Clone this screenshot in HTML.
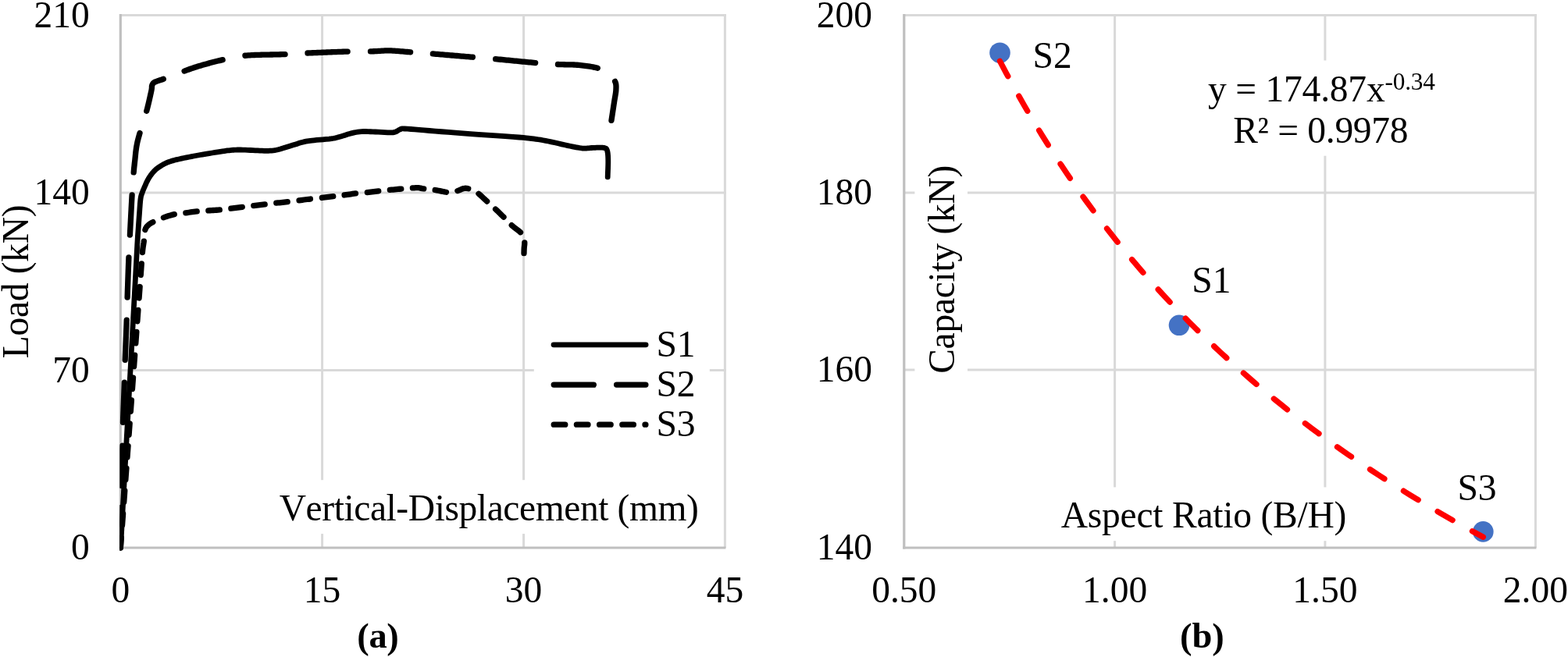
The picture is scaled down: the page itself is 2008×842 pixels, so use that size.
<!DOCTYPE html>
<html lang="en"><head><meta charset="utf-8"><title>Load-displacement curves and capacity vs aspect ratio</title>
<style>html,body{margin:0;padding:0;background:#fff;overflow:hidden}svg{display:block}text{font-family:"Liberation Serif",serif;font-size:47.5px;fill:#000;font-kerning:none}.b{font-weight:bold}.g{stroke:#d9d9d9;stroke-width:3;fill:none}.ax{stroke:#bfbfbf;stroke-width:3.2;fill:none}.s{stroke:#000;stroke-width:7.3;fill:none;stroke-linecap:round;stroke-linejoin:round}.wb{fill:#fff}.pt{fill:#4472c4}</style></head><body>
<svg width="2008" height="842" viewBox="0 0 2008 842" role="img" aria-label="Load versus vertical displacement curves and capacity versus aspect ratio">
<defs><clipPath id="cl"><rect x="153.3" y="10" width="780" height="696"/></clipPath></defs>
<rect width="2008" height="842" fill="#fff"/>
<g id="chart-a">
<line class="g" x1="154.3" y1="19.6" x2="929.9" y2="19.6"/>
<line class="g" x1="154.3" y1="247.0" x2="929.9" y2="247.0"/>
<line class="g" x1="154.3" y1="474.4" x2="929.9" y2="474.4"/>
<line class="g" x1="412.6" y1="18.1" x2="412.6" y2="702.0"/>
<line class="g" x1="670.6" y1="18.1" x2="670.6" y2="702.0"/>
<line class="g" x1="928.4" y1="18.1" x2="928.4" y2="702.0"/>
<line class="ax" x1="154.3" y1="18.1" x2="154.3" y2="703.5"/>
<line class="ax" x1="152.8" y1="702.0" x2="929.4" y2="702.0"/>
<rect class="wb" x="683.8" y="410" width="225" height="170"/>
<rect class="wb" x="345" y="615.2" width="560" height="68.9"/>
<g clip-path="url(#cl)">
<path class="s" d="M152.40 702.00 L152.47 699.95 L152.54 697.90 L152.61 695.85 L152.68 693.80 L152.75 691.75 L152.82 689.70 L152.89 687.65 L152.96 685.59 L153.03 683.54 L153.10 681.49 L153.17 679.44 L153.24 677.39 L153.30 675.34 L153.37 673.29 L153.44 671.24 L153.51 669.19 L153.58 667.14 L153.65 665.09 L153.72 663.04 L153.79 660.99 L153.86 658.94 L153.93 656.88 L154.00 654.83 L154.07 652.78 L154.14 650.73 M155.10 622.32 L155.17 620.27 L155.24 618.22 L155.31 616.18 L155.38 614.13 L155.45 612.08 L155.52 610.04 L155.59 607.99 L155.66 605.94 L155.73 603.90 L155.80 601.85 L155.87 599.80 L155.93 597.76 L156.00 595.71 L156.07 593.66 L156.14 591.61 L156.21 589.57 L156.28 587.52 L156.34 585.47 L156.41 583.43 L156.48 581.38 L156.54 579.33 L156.61 577.29 L156.67 575.24 L156.74 573.19 L156.80 571.15 M157.47 541.38 L157.54 539.34 L157.60 537.29 L157.67 535.24 L157.74 533.20 L157.82 531.15 L157.89 529.10 L157.97 527.06 L158.04 525.01 L158.12 522.96 L158.19 520.92 L158.27 518.87 L158.35 516.82 L158.42 514.78 L158.50 512.73 L158.58 510.68 L158.66 508.64 L158.73 506.59 L158.81 504.54 L158.89 502.50 L158.96 500.45 L159.04 498.40 L159.11 496.36 L159.19 494.31 L159.26 492.26 L159.33 490.22 M160.19 461.33 L160.27 459.28 L160.34 457.24 L160.42 455.19 L160.50 453.14 L160.58 451.10 L160.66 449.05 L160.74 447.00 L160.83 444.96 L160.91 442.91 L160.99 440.87 L161.07 438.82 L161.16 436.77 L161.24 434.73 L161.32 432.68 L161.41 430.63 L161.49 428.59 L161.57 426.54 L161.65 424.50 L161.74 422.45 L161.82 420.40 L161.90 418.36 L161.98 416.31 L162.06 414.26 L162.13 412.22 L162.21 410.17 M163.10 381.13 L163.17 379.09 L163.24 377.04 L163.30 374.99 L163.37 372.95 L163.44 370.90 L163.51 368.85 L163.58 366.81 L163.65 364.76 L163.72 362.71 L163.79 360.67 L163.86 358.62 L163.93 356.57 L164.00 354.53 L164.07 352.48 L164.14 350.43 L164.21 348.38 L164.28 346.34 L164.36 344.29 L164.43 342.24 L164.51 340.20 L164.58 338.15 L164.66 336.11 L164.74 334.06 L164.82 332.01 L164.90 329.97 M166.40 301.06 L166.51 299.02 L166.61 296.97 L166.72 294.93 L166.82 292.88 L166.93 290.84 L167.03 288.79 L167.14 286.75 L167.24 284.70 L167.35 282.66 L167.45 280.61 L167.56 278.57 L167.66 276.52 L167.77 274.48 L167.87 272.43 L167.98 270.38 L168.09 268.34 L168.19 266.29 L168.30 264.25 L168.41 262.20 L168.52 260.16 L168.63 258.11 L168.75 256.07 L168.86 254.02 L168.98 251.98 L169.10 249.94 M171.19 220.94 L171.36 218.90 L171.54 216.86 L171.73 214.82 L171.95 212.79 L172.17 210.75 L172.40 208.72 L172.64 206.68 L172.86 204.65 L173.06 202.61 L173.26 200.57 L173.47 198.53 L173.68 196.49 L173.90 194.46 L174.15 192.43 L174.42 190.40 L174.73 188.37 L175.09 186.35 L175.48 184.34 L175.90 182.34 L176.36 180.34 L176.86 178.36 L177.38 176.38 L177.93 174.40 L178.48 172.43 L179.04 170.46 M187.72 142.31 L188.25 140.33 L188.77 138.35 L189.27 136.36 L189.76 134.37 L190.24 132.38 L190.71 130.39 L191.17 128.39 L191.63 126.40 L192.08 124.40 L192.52 122.40 L192.96 120.40 L193.39 118.40 L193.82 116.39 L194.21 114.38 L194.43 112.35 L194.45 110.33 L195.08 108.39 L196.15 106.65 L197.77 105.41 L199.64 104.59 L201.56 103.88 L203.48 103.18 L205.45 102.59 L207.38 101.93 L209.31 101.23 M236.07 91.09 L237.99 90.39 L239.92 89.69 L241.84 88.99 L243.77 88.29 L245.70 87.61 L247.63 86.94 L249.57 86.29 L251.52 85.66 L253.48 85.05 L255.44 84.47 L257.41 83.89 L259.37 83.32 L261.34 82.76 L263.32 82.21 L265.29 81.66 L267.27 81.12 L269.24 80.59 L271.22 80.07 L273.21 79.55 L275.19 79.05 L277.18 78.55 L279.17 78.07 L281.16 77.59 L283.15 77.13 L285.15 76.68 M313.92 71.26 L315.96 71.09 L318.00 70.94 L320.05 70.81 L322.09 70.70 L324.14 70.60 L326.18 70.52 L328.23 70.44 L330.28 70.38 L332.32 70.32 L334.37 70.26 L336.42 70.22 L338.47 70.17 L340.51 70.13 L342.56 70.09 L344.61 70.05 L346.66 70.02 L348.70 69.98 L350.75 69.95 L352.80 69.91 L354.85 69.87 L356.89 69.82 L358.94 69.77 L360.99 69.72 L363.04 69.65 L365.08 69.57 M393.97 68.01 L396.01 67.93 L398.06 67.84 L400.11 67.75 L402.15 67.66 L404.20 67.58 L406.25 67.49 L408.29 67.41 L410.34 67.33 L412.38 67.24 L414.43 67.16 L416.48 67.08 L418.52 67.00 L420.57 66.92 L422.62 66.85 L424.66 66.77 L426.71 66.69 L428.76 66.62 L430.80 66.54 L432.85 66.47 L434.90 66.40 L436.94 66.33 L438.99 66.27 L441.04 66.21 L443.08 66.15 L445.13 66.09 M474.50 65.91 L476.55 65.85 L478.59 65.77 L480.64 65.66 L482.68 65.54 L484.73 65.41 L486.77 65.27 L488.81 65.15 L490.86 65.04 L492.91 64.95 L494.95 64.90 L497.00 64.89 L499.05 64.91 L501.10 64.97 L503.14 65.07 L505.19 65.18 L507.23 65.32 L509.27 65.47 L511.31 65.63 L513.35 65.80 L515.39 65.98 L517.43 66.16 L519.48 66.33 L521.52 66.50 L523.56 66.67 L525.60 66.82 M554.34 68.98 L556.38 69.14 L558.42 69.31 L560.46 69.48 L562.50 69.64 L564.54 69.81 L566.59 69.98 L568.63 70.15 L570.67 70.32 L572.71 70.49 L574.75 70.66 L576.79 70.83 L578.83 71.00 L580.87 71.17 L582.91 71.34 L584.95 71.51 L586.99 71.68 L589.04 71.85 L591.08 72.02 L593.12 72.20 L595.16 72.37 L597.20 72.54 L599.24 72.71 L601.28 72.88 L603.32 73.05 L605.36 73.22 M634.66 75.68 L636.70 75.87 L638.74 76.06 L640.78 76.25 L642.82 76.44 L644.86 76.64 L646.90 76.84 L648.94 77.03 L650.98 77.23 L653.01 77.43 L655.05 77.63 L657.09 77.83 L659.13 78.03 L661.17 78.23 L663.21 78.42 L665.24 78.62 L667.28 78.82 L669.32 79.02 L671.36 79.21 L673.40 79.41 L675.44 79.60 L677.48 79.79 L679.52 79.98 L681.55 80.16 L683.59 80.34 L685.64 80.52 M714.48 82.50 L716.53 82.59 L718.57 82.66 L720.62 82.72 L722.67 82.76 L724.72 82.79 L726.76 82.81 L728.81 82.84 L730.86 82.88 L732.91 82.93 L734.95 83.01 L737.00 83.10 L739.04 83.24 L741.08 83.41 L743.12 83.61 L745.16 83.82 L747.19 84.05 L749.23 84.30 L751.26 84.57 L753.29 84.86 L755.31 85.17 L757.33 85.51 L759.34 85.89 L761.35 86.30 L763.34 86.77 L765.32 87.31 M787.60 104.30 L788.35 106.18 L788.80 108.16 L788.98 110.17 L788.99 112.20 L788.92 114.22 L788.82 116.25 L788.61 118.26 L788.32 120.27 L787.99 122.27 L787.64 124.26 L787.29 126.26 L786.96 128.26 L786.65 130.26 L786.34 132.26 L786.04 134.27 L785.74 136.27 L785.44 138.27 L785.13 140.28 L784.83 142.28 L784.52 144.28 L784.22 146.29 L783.91 148.29 L783.61 150.29 L783.30 152.30 L783.00 154.30"/>
<path class="s" d="M182.41 323.54 L182.60 321.47 L182.82 319.41 L183.08 317.36 L183.38 315.31 L183.71 313.26 L184.03 311.22 L184.30 309.16 M180.26 352.39 L180.40 350.33 L180.55 348.26 L180.70 346.19 L180.84 344.13 L180.99 342.06 L181.14 340.00 L181.28 337.93 M178.08 381.98 L178.23 379.91 L178.39 377.85 L178.54 375.78 L178.69 373.72 L178.85 371.65 L179.00 369.59 L179.15 367.52 M175.87 411.80 L176.03 409.74 L176.18 407.67 L176.33 405.60 L176.49 403.54 L176.64 401.47 L176.79 399.41 L176.94 397.34 M173.79 439.94 L173.95 437.87 L174.10 435.81 L174.25 433.74 L174.40 431.67 L174.56 429.61 L174.71 427.54 L174.86 425.48 M171.59 469.70 L171.74 467.63 L171.90 465.57 L172.05 463.50 L172.20 461.44 L172.35 459.37 L172.51 457.30 L172.66 455.24 M169.46 498.48 L169.61 496.41 L169.77 494.35 L169.92 492.28 L170.07 490.22 L170.22 488.15 L170.38 486.09 L170.53 484.02 M167.33 527.23 L167.49 525.16 L167.64 523.10 L167.79 521.03 L167.94 518.97 L168.10 516.90 L168.25 514.84 L168.40 512.77 M165.11 557.23 L165.27 555.16 L165.42 553.10 L165.57 551.03 L165.72 548.97 L165.88 546.90 L166.03 544.84 L166.18 542.77 M162.99 585.98 L163.14 583.91 L163.29 581.85 L163.44 579.78 L163.60 577.71 L163.75 575.65 L163.90 573.58 L164.06 571.52 M160.87 614.62 L161.02 612.56 L161.17 610.49 L161.32 608.42 L161.48 606.36 L161.63 604.29 L161.78 602.23 L161.94 600.16 M158.73 643.44 L158.89 641.38 L159.04 639.31 L159.19 637.25 L159.34 635.18 L159.50 633.12 L159.65 631.05 L159.80 628.98 M156.55 672.93 L156.70 670.87 L156.86 668.80 L157.01 666.74 L157.16 664.67 L157.32 662.60 L157.47 660.54 L157.62 658.47 M154.40 702.00 L154.56 699.84 L154.72 697.68 L154.88 695.52 L155.04 693.37 L155.20 691.21 L155.36 689.05 M185.88 294.53 L186.59 292.59 L187.67 290.83 L189.08 289.31 L190.57 287.87 L192.22 286.62 L194.01 285.57 L195.85 284.63 M209.41 278.82 L211.36 278.13 L213.32 277.46 L215.29 276.82 L217.27 276.21 L219.26 275.64 L221.27 275.12 L223.28 274.65 M237.86 272.80 L239.92 272.53 L241.97 272.24 L244.02 271.95 L246.07 271.66 L248.12 271.38 L250.18 271.12 L252.24 270.90 M266.82 269.89 L268.88 269.75 L270.95 269.63 L273.02 269.51 L275.09 269.38 L277.15 269.24 L279.22 269.09 L281.28 268.92 M295.86 267.20 L297.92 266.94 L299.97 266.67 L302.02 266.39 L304.08 266.10 L306.13 265.83 L308.18 265.55 L310.24 265.30 M324.81 263.66 L326.86 263.41 L328.92 263.15 L330.97 262.88 L333.03 262.62 L335.08 262.35 L337.14 262.09 L339.19 261.84 M353.79 260.20 L355.85 259.98 L357.91 259.78 L359.97 259.57 L362.03 259.36 L364.09 259.15 L366.15 258.93 L368.21 258.70 M383.05 256.78 L385.11 256.52 L387.16 256.26 L389.22 256.00 L391.28 255.75 L393.33 255.50 L395.39 255.26 L397.45 255.03 M412.36 253.47 L414.42 253.23 L416.47 252.97 L418.53 252.70 L420.58 252.42 L422.63 252.14 L424.68 251.88 L426.74 251.62 M441.07 249.98 L443.13 249.71 L445.18 249.41 L447.22 249.09 L449.27 248.77 L451.32 248.46 L453.37 248.18 L455.43 247.93 M470.35 246.57 L472.41 246.34 L474.47 246.10 L476.52 245.84 L478.58 245.57 L480.63 245.31 L482.69 245.06 L484.75 244.83 M499.33 243.43 L501.39 243.24 L503.46 243.03 L505.52 242.83 L507.58 242.63 L509.64 242.44 L511.70 242.25 L513.77 242.07 M528.37 240.94 L530.43 240.79 L532.50 240.62 L534.57 240.55 L536.63 240.73 L538.65 241.17 L540.68 241.58 L542.73 241.88 M557.18 243.52 L559.23 243.85 L561.26 244.24 L563.29 244.66 L565.32 245.10 L567.34 245.54 L569.37 245.94 L571.42 246.27 M585.87 244.58 L587.81 243.85 L589.72 243.03 L591.63 242.23 L593.59 241.57 L595.63 241.26 L597.70 241.36 L599.73 241.75 M612.95 248.26 L614.53 249.59 L616.08 250.98 L617.60 252.38 L619.11 253.80 L620.62 255.22 L622.13 256.64 L623.65 258.04 M634.59 268.11 L636.10 269.53 L637.60 270.96 L639.09 272.39 L640.58 273.84 L642.06 275.29 L643.53 276.74 L645.00 278.20 M655.25 288.66 L656.81 290.02 L658.43 291.32 L660.08 292.58 L661.73 293.82 L663.39 295.07 L665.01 296.35 L666.54 297.74 M671.80 310.80 L671.75 313.12 L671.48 315.43 L671.22 317.74 L671.11 320.06 L671.05 322.38 L671.00 324.70"/>
<path class="s" style="stroke-width:6.8" d="M154.50 702.00 L155.80 678.25 L157.11 654.41 L158.43 630.56 L159.73 606.81 L161.02 583.26 L162.30 560.00 L163.57 536.81 L164.85 513.56 L166.11 490.50 L167.35 467.89 L168.55 445.97 L169.70 425.00 L170.84 404.18 L171.98 383.15 L173.08 362.81 L174.10 344.07 L174.99 327.84 L175.70 315.00 L176.19 306.46 L176.48 301.67 L176.64 299.38 L176.73 298.33 L176.83 297.29 L177.00 295.00 L177.23 291.67 L177.45 288.33 L177.68 285.00 L177.91 281.67 L178.15 278.33 L178.40 275.00 L178.65 271.53 L178.90 267.89 L179.16 264.25 L179.42 260.78 L179.70 257.64 L180.00 255.00 L180.31 252.97 L180.62 251.44 L180.95 250.24 L181.30 249.21 L181.68 248.18 L182.10 247.00 L182.57 245.68 L183.09 244.36 L183.63 243.04 L184.19 241.74 L184.75 240.46 L185.30 239.20 L185.82 237.98 L186.33 236.79 L186.83 235.61 L187.35 234.45 L187.90 233.28 L188.50 232.10 L189.13 230.90 L189.79 229.70 L190.47 228.50 L191.19 227.30 L191.97 226.10 L192.80 224.90 L193.71 223.69 L194.68 222.45 L195.70 221.21 L196.76 220.01 L197.83 218.86 L198.90 217.80 L199.98 216.83 L201.07 215.94 L202.18 215.10 L203.31 214.31 L204.45 213.55 L205.60 212.80 L206.77 212.07 L207.97 211.37 L209.17 210.70 L210.39 210.06 L211.60 209.46 L212.80 208.90 L213.95 208.39 L215.06 207.94 L216.17 207.52 L217.31 207.12 L218.54 206.72 L219.90 206.30 L221.32 205.88 L222.74 205.47 L224.26 205.07 L225.92 204.65 L227.81 204.20 L230.00 203.70 L232.58 203.14 L235.53 202.52 L238.69 201.87 L241.95 201.21 L245.17 200.58 L248.20 200.00 L251.02 199.47 L253.72 198.99 L256.37 198.52 L259.06 198.06 L261.84 197.59 L264.80 197.10 L268.05 196.56 L271.57 195.99 L275.19 195.41 L278.74 194.85 L282.07 194.34 L285.00 193.90 L287.48 193.54 L289.63 193.23 L291.56 192.98 L293.36 192.76 L295.14 192.57 L297.00 192.40 L298.84 192.26 L300.54 192.14 L302.23 192.06 L304.01 192.00 L306.00 191.98 L308.30 192.00 L311.01 192.07 L314.06 192.19 L317.32 192.34 L320.65 192.51 L323.92 192.67 L327.00 192.80 L329.94 192.93 L332.84 193.07 L335.69 193.20 L338.45 193.30 L341.09 193.34 L343.60 193.30 L345.85 193.20 L347.84 193.07 L349.72 192.88 L351.63 192.61 L353.71 192.22 L356.10 191.70 L358.90 190.99 L362.01 190.09 L365.29 189.08 L368.61 188.03 L371.83 187.02 L374.80 186.10 L377.54 185.26 L380.17 184.42 L382.69 183.61 L385.13 182.86 L387.49 182.18 L389.80 181.60 L391.90 181.15 L393.75 180.81 L395.53 180.55 L397.41 180.32 L399.58 180.09 L402.20 179.80 L405.48 179.48 L409.32 179.16 L413.44 178.83 L417.57 178.48 L421.41 178.11 L424.70 177.70 L427.36 177.26 L429.61 176.80 L431.58 176.31 L433.41 175.79 L435.24 175.26 L437.20 174.70 L439.26 174.10 L441.30 173.44 L443.34 172.76 L445.40 172.09 L447.48 171.46 L449.60 170.90 L451.72 170.40 L453.83 169.92 L455.96 169.49 L458.17 169.11 L460.50 168.81 L463.00 168.60 L465.66 168.51 L468.44 168.52 L471.34 168.61 L474.36 168.74 L477.52 168.88 L480.80 169.00 L484.42 169.16 L488.43 169.41 L492.56 169.66 L496.57 169.86 L500.20 169.93 L503.20 169.80 L505.48 169.40 L507.24 168.77 L508.61 168.01 L509.76 167.23 L510.84 166.52 L512.00 166.00 L512.89 165.63 L513.31 165.33 L513.66 165.11 L514.33 164.97 L515.72 164.93 L518.20 165.00 L521.78 165.20 L526.14 165.51 L531.22 165.93 L536.93 166.42 L543.22 166.95 L550.00 167.50 L557.41 168.09 L565.54 168.74 L574.24 169.43 L583.36 170.15 L592.76 170.88 L602.30 171.60 L612.62 172.34 L623.97 173.14 L635.60 173.94 L646.76 174.71 L656.71 175.41 L664.70 176.00 L670.35 176.45 L674.17 176.77 L676.78 177.03 L678.79 177.27 L680.79 177.54 L683.40 177.90 L686.44 178.32 L689.40 178.75 L692.36 179.22 L695.41 179.74 L698.62 180.32 L702.10 181.00 L706.01 181.82 L710.31 182.78 L714.78 183.81 L719.20 184.84 L723.35 185.79 L727.00 186.60 L730.16 187.27 L733.01 187.85 L735.59 188.36 L737.92 188.80 L740.05 189.18 L742.00 189.50 L743.66 189.75 L744.96 189.92 L746.06 190.03 L747.09 190.08 L748.19 190.10 L749.50 190.10 L750.98 190.05 L752.51 189.94 L754.11 189.79 L755.80 189.63 L757.59 189.49 L759.50 189.40 L761.68 189.32 L764.14 189.22 L766.71 189.14 L769.19 189.12 L771.42 189.20 L773.20 189.40 L774.50 189.66 L775.44 189.94 L776.12 190.32 L776.64 190.87 L777.07 191.67 L777.50 192.80 L777.91 194.25 L778.23 195.96 L778.46 197.92 L778.62 200.13 L778.73 202.59 L778.80 205.30 L778.81 208.36 L778.74 211.80 L778.62 215.49 L778.47 219.30 L778.32 223.11 L778.20 226.80"/>
</g>
<path class="s" style="stroke-width:6.8" d="M709 441.8H827.1"/>
<path class="s" stroke-dasharray="51.2 29.2" d="M709.2 493.1H826.9"/>
<path class="s" stroke-dasharray="14.6 14.6" d="M709.2 544.2H826.9"/>
<text x="840.4" y="457.4">S1</text><text x="840.4" y="508">S2</text><text x="840.4" y="559.2">S3</text>
<text x="114.8" y="34.9" text-anchor="end">210</text>
<text x="114.8" y="261.8" text-anchor="end">140</text>
<text x="114.8" y="489.5" text-anchor="end">70</text>
<text x="114.8" y="716.6" text-anchor="end">0</text>
<text x="154.3" y="771.6" text-anchor="middle">0</text>
<text x="412.6" y="771.6" text-anchor="middle">15</text>
<text x="670.6" y="771.6" text-anchor="middle">30</text>
<text x="928.4" y="771.6" text-anchor="middle">45</text>
<text x="357.7" y="666.9" style="letter-spacing:-0.41px">Vertical-Displacement (mm)</text>
<text transform="translate(36.3 459.3) rotate(-90)" style="letter-spacing:-0.29px">Load (kN)</text>
<text class="b" x="457.2" y="829.6" style="font-size:46.5px;letter-spacing:-0.3px"><tspan dy="1.2">(</tspan><tspan dy="-1.2">a</tspan><tspan dy="1.2">)</tspan></text>
</g>
<g id="chart-b">
<line class="g" x1="1157.8" y1="19.6" x2="1967.9" y2="19.6"/>
<line class="g" x1="1157.8" y1="247.0" x2="1967.9" y2="247.0"/>
<line class="g" x1="1157.8" y1="474.1" x2="1967.9" y2="474.1"/>
<line class="g" x1="1427.6" y1="18.1" x2="1427.6" y2="702.0"/>
<line class="g" x1="1696.9" y1="18.1" x2="1696.9" y2="702.0"/>
<line class="g" x1="1966.4" y1="18.1" x2="1966.4" y2="702.0"/>
<line class="ax" x1="1157.8" y1="18.1" x2="1157.8" y2="703.5"/>
<line class="ax" x1="1156.3" y1="702.0" x2="1967.4" y2="702.0"/>
<rect class="wb" x="1171.4" y="200" width="67.6" height="292"/>
<rect class="wb" x="1345" y="624.4" width="392" height="68.8"/>
<rect class="wb" x="1535" y="77.5" width="315" height="122.2"/>
<circle class="pt" cx="1280.5" cy="67.7" r="13.3"/>
<circle class="pt" cx="1510.0" cy="416.8" r="13.3"/>
<circle class="pt" cx="1899.3" cy="681.4" r="13.3"/>
<path d="M1280.50 78.33 L1288.33 93.18 L1296.17 107.65 L1304.00 121.74 L1311.83 135.49 L1319.66 148.89 L1327.50 161.98 L1335.33 174.75 L1343.16 187.23 L1351.00 199.43 L1358.83 211.35 L1366.66 223.01 L1374.49 234.42 L1382.33 245.58 L1390.16 256.50 L1397.99 267.21 L1405.83 277.69 L1413.66 287.96 L1421.49 298.03 L1429.33 307.90 L1437.16 317.59 L1444.99 327.09 L1452.82 336.41 L1460.66 345.56 L1468.49 354.55 L1476.32 363.37 L1484.16 372.04 L1491.99 380.55 L1499.82 388.92 L1507.65 397.15 L1515.49 405.24 L1523.32 413.19 L1531.15 421.02 L1538.99 428.71 L1546.82 436.29 L1554.65 443.74 L1562.48 451.08 L1570.32 458.30 L1578.15 465.42 L1585.98 472.43 L1593.82 479.33 L1601.65 486.13 L1609.48 492.83 L1617.32 499.43 L1625.15 505.94 L1632.98 512.36 L1640.81 518.69 L1648.65 524.93 L1656.48 531.08 L1664.31 537.15 L1672.15 543.14 L1679.98 549.05 L1687.81 554.88 L1695.64 560.64 L1703.48 566.32 L1711.31 571.93 L1719.14 577.47 L1726.98 582.94 L1734.81 588.34 L1742.64 593.67 L1750.47 598.94 L1758.31 604.14 L1766.14 609.29 L1773.97 614.37 L1781.81 619.39 L1789.64 624.35 L1797.47 629.26 L1805.31 634.11 L1813.14 638.90 L1820.97 643.64 L1828.80 648.33 L1836.64 652.96 L1844.47 657.55 L1852.30 662.08 L1860.14 666.56 L1867.97 671.00 L1875.80 675.39 L1883.63 679.73 L1891.47 684.03 L1899.30 688.28" fill="none" stroke="#f00" stroke-width="7.3" stroke-linecap="round" stroke-dasharray="22 29"/>
<text x="1322.5" y="87.4">S2</text><text x="1526.3" y="374.6">S1</text><text x="1866.4" y="640.9">S3</text>
<text x="1547" y="129.5" style="letter-spacing:-0.2px">y = 174.87x<tspan dy="-14.5" font-size="31.3">-0.34</tspan></text>
<text x="1579.2" y="183.1" style="letter-spacing:-0.27px">R² = 0.9978</text>
<text x="1117" y="35.0" text-anchor="end">200</text>
<text x="1117" y="262.0" text-anchor="end">180</text>
<text x="1117" y="489.4" text-anchor="end">160</text>
<text x="1117" y="716.6" text-anchor="end">140</text>
<text x="1157.8" y="771.8" text-anchor="middle">0.50</text>
<text x="1427.6" y="771.8" text-anchor="middle">1.00</text>
<text x="1696.9" y="771.8" text-anchor="middle">1.50</text>
<text x="1966.4" y="771.8" text-anchor="middle">2.00</text>
<text x="1358.7" y="676.3" style="letter-spacing:-0.22px">Aspect Ratio (B/H)</text>
<text transform="translate(1222.1 478.8) rotate(-90)" style="letter-spacing:-0.27px">Capacity (kN)</text>
<text class="b" x="1510.9" y="829.6" style="font-size:46.5px"><tspan dy="1.2">(</tspan><tspan dy="-1.2">b</tspan><tspan dy="1.2">)</tspan></text>
</g>
</svg></body></html>
